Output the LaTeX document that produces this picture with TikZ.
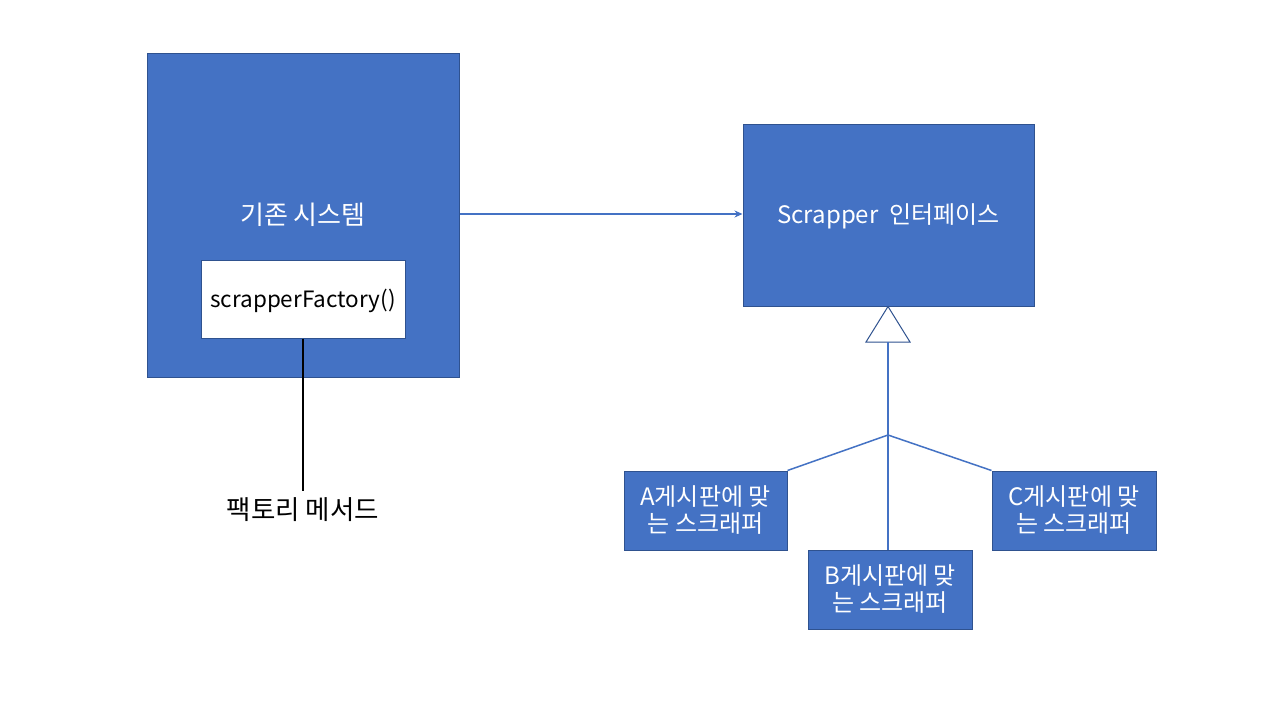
\documentclass[tikz,border=0pt]{standalone}
\usepackage{fontspec}
\setmainfont{Noto Sans CJK KR}
\usetikzlibrary{arrows.meta}
\definecolor{boxfill}{HTML}{4472C4}
\definecolor{boxline}{HTML}{2F528F}
\definecolor{conn}{HTML}{4472C4}
\begin{document}
\begin{tikzpicture}[x=1pt,y=-1pt,
  bluebox/.style={draw=boxline,fill=boxfill,line width=1pt,inner sep=0pt,text=white},
  lbl/.style={font=\fontsize{24}{27}\selectfont,text=white,align=center},
  conline/.style={draw=conn,line width=1.5pt}]
\useasboundingbox (0,0) rectangle (1280,720);
\fill[white] (0,0) rectangle (1280,720);
% boxes
\node[bluebox,minimum width=312pt,minimum height=324pt] (sys) at (303,215) {};
\node[text=white,font=\fontsize{26}{30}\selectfont] (systxt) at (303,215) {기존 시스템};
\node[draw=boxline,fill=white,line width=1pt,minimum width=204pt,minimum height=78pt,inner sep=0pt] (fac) at (303,299) {};
\node[font=\fontsize{22.5}{26}\selectfont] (factxt) at (303,301) {scrapperFactory()};
\node[bluebox,minimum width=291pt,minimum height=182pt] (scr) at (888.5,215) {};
\node[text=white,font=\fontsize{24}{28}\selectfont] (scrtxt) at (888.5,216) {Scrapper\ \ 인터페이스};
\node[bluebox,minimum width=163pt,minimum height=79pt,lbl] (a) at (705.5,510.5) {A게시판에 맞\\는 스크래퍼};
\node[bluebox,minimum width=164pt,minimum height=79pt,lbl] (c) at (1074,510.5) {C게시판에 맞\\는 스크래퍼};
\node[bluebox,minimum width=164pt,minimum height=79pt,lbl] (b) at (890,589.5) {B게시판에 맞\\는 스크래퍼};
\node[font=\fontsize{26.5}{30}\selectfont,inner sep=0pt] (fm) at (303,510) {팩토리 메서드};
% connectors
\coordinate (fmtop) at (303,491);
\draw[conline,-{Stealth[length=8pt,width=7pt]}] (sys.east |- 0,214) -- (scr.west |- 0,214);
\coordinate (tri) at (888,342);
\coordinate (j) at (888,435);
\draw[draw=boxline,fill=white,line width=1pt] (scr.south -| 888,0) -- (910,342) -- (866,342) -- cycle;
\draw[conline] (tri) -- (j) -- (b.north -| 888,0);
\draw[conline] (j) -- (a.north east);
\draw[conline] (j) -- (c.north west);
\draw[black,line width=2pt] (fac.south) -- (fmtop);
\end{tikzpicture}
\end{document}
